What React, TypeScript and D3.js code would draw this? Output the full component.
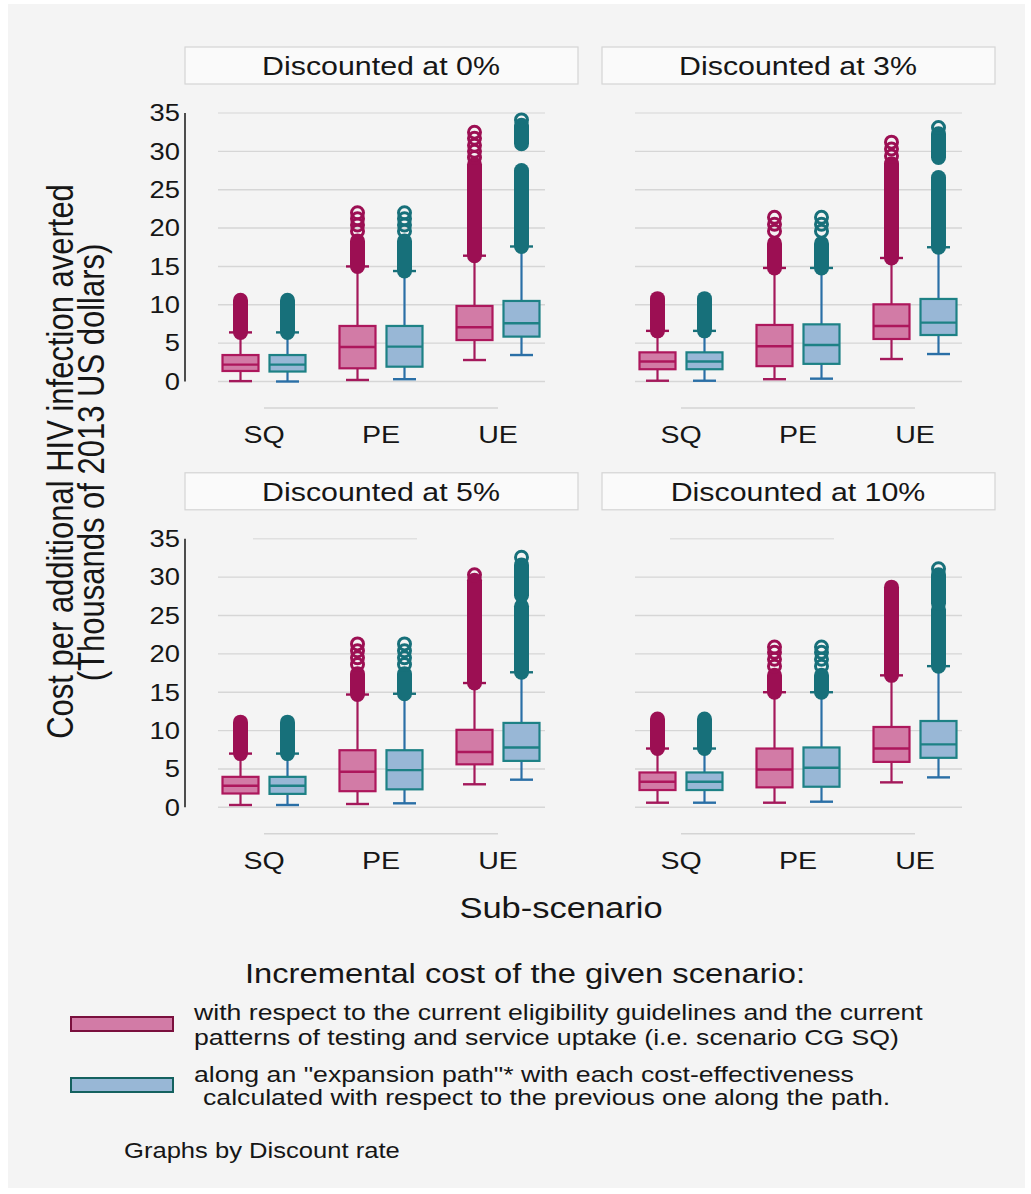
import React from 'react';
import * as d3 from 'd3';

// facet titles, categories and the two cost definitions
const panelTitles = ['Discounted at 0%', 'Discounted at 3%', 'Discounted at 5%', 'Discounted at 10%'];
const categories = ['SQ', 'PE', 'UE'];
const seriesKeys = ['reference', 'expansion'];
const yTicks = [0, 5, 10, 15, 20, 25, 30, 35];

// box stats per panel: [lo whisker, q1, median, q3, hi whisker], order SQ-m, SQ-t, PE-m, PE-t, UE-m, UE-t
const boxes0 = [
  [0.05, 1.37, 2.2, 3.45, 6.4], [0.0, 1.3, 2.2, 3.45, 6.4],
  [0.2, 1.72, 4.5, 7.24, 15.0], [0.3, 1.93, 4.55, 7.24, 14.4],
  [2.8, 5.4, 7.07, 9.85, 16.4], [3.45, 5.85, 7.6, 10.5, 17.6],
];
const boxes3 = [
  [0.1, 1.6, 2.6, 3.8, 6.6], [0.1, 1.6, 2.6, 3.8, 6.6],
  [0.3, 2.0, 4.6, 7.37, 14.8], [0.37, 2.3, 4.76, 7.45, 14.8],
  [2.93, 5.54, 7.24, 10.06, 16.1], [3.58, 6.06, 7.67, 10.76, 17.5],
];
const boxes5 = [
  [0.3, 1.8, 2.8, 3.97, 7.0], [0.3, 1.75, 2.8, 3.97, 7.0],
  [0.43, 2.1, 4.63, 7.44, 14.7], [0.52, 2.34, 4.84, 7.44, 14.8],
  [3.0, 5.6, 7.2, 10.1, 16.2], [3.6, 6.05, 7.8, 11.0, 17.6],
];
const boxes10 = [
  [0.6, 2.25, 3.33, 4.54, 7.66], [0.6, 2.25, 3.33, 4.54, 7.66],
  [0.6, 2.6, 4.93, 7.66, 15.0], [0.73, 2.68, 5.15, 7.8, 15.0],
  [3.25, 5.92, 7.66, 10.47, 17.2], [3.9, 6.45, 8.2, 11.25, 18.4],
];

// dense runs of overlapping outliers, [from, to]
const dense0 = [
  [[6.4, 10.6]], [[6.4, 10.6]],
  [[15.0, 18.3]], [[14.4, 18.3]],
  [[16.4, 28.3]], [[17.6, 27.5], [31.0, 33.4]],
];
const dense3 = [
  [[6.6, 10.8]], [[6.6, 10.8]],
  [[14.8, 18.0]], [[14.8, 18.0]],
  [[16.1, 28.4]], [[17.5, 26.6], [29.2, 32.3]],
];
const dense5 = [
  [[7.0, 11.1]], [[7.0, 11.1]],
  [[14.7, 17.4]], [[14.8, 17.4]],
  [[16.2, 29.6]], [[17.6, 26.2], [27.6, 31.6]],
];
const dense10 = [
  [[7.66, 11.5]], [[7.66, 11.5]],
  [[15.0, 17.2]], [[15.0, 17.2]],
  [[17.2, 28.7]], [[18.4, 25.8], [26.6, 30.3]],
];

// separate outliers drawn as rings
const sparse0 = [[], [], [19.6, 20.4, 21.2, 22.0], [19.6, 20.4, 21.2, 22.0], [29.2, 30.0, 30.8, 31.7, 32.5], [34.1]];
const sparse3 = [[], [], [19.6, 20.5, 21.4], [19.6, 20.5, 21.4], [29.4, 30.3, 31.2], [33.1]];
const sparse5 = [[], [], [18.6, 19.5, 20.4, 21.3], [18.6, 19.5, 20.4, 21.3], [30.3], [32.6]];
const sparse10 = [[], [], [18.4, 19.3, 20.2, 20.9], [18.4, 19.3, 20.2, 20.9], [], [31.1]];

const panelBoxes = [boxes0, boxes3, boxes5, boxes10];
const panelDense = [dense0, dense3, dense5, dense10];
const panelSparse = [sparse0, sparse3, sparse5, sparse10];

const legendLines = [
  'with respect to the current eligibility guidelines and the current',
  'patterns of testing and service uptake (i.e. scenario CG SQ)',
  'along an "expansion path"* with each cost-effectiveness',
  'calculated with respect to the previous one along the path.',
];

const colors = {
  reference: { box: '#d27ba6', line: '#ad175c', whisker: '#a4195b', out: '#9c0f53' },
  expansion: { box: '#98b7d6', line: '#1d8185', whisker: '#2a6fa6', out: '#17707a' },
};

const FONT = '"Liberation Sans", Arial, Helvetica, sans-serif';
const SX = 1.19; // the picture is stretched horizontally

const T = ({ x, y, size, anchor = 'start', rotate = false, children }: any) => (
  <text
    transform={`translate(${x},${y}) scale(${SX},1)${rotate ? ' rotate(-90)' : ''}`}
    fontSize={size}
    textAnchor={anchor}
    fontFamily={FONT}
    fill="#161616"
  >
    {children}
  </text>
);

const Panel = ({ idx }: { idx: number }) => {
  const col = idx % 2;
  const row = Math.floor(idx / 2);
  const dx = col * 417;
  const dy = row * 425.8;

  const y = d3.scaleLinear().domain([0, 35]).range([381.5 + dy, 113 + dy]);
  const x = d3.scalePoint<string>().domain(categories).range([264 + dx, 498 + dx]);
  const off = d3.scalePoint<string>().domain(seriesKeys).range([-23.5, 23.5]);

  const boxes = panelBoxes[idx];
  const dense = panelDense[idx];
  const sparse = panelSparse[idx];

  const boxW = 36;
  const capW = 23;
  const r = 7.5;

  return (
    <g>
      {/* facet header */}
      <rect x={185 + dx} y={47 + dy} width={393} height={37} fill="#fafafa" stroke="#d4d4d4" strokeWidth={1.2} />
      <T x={381 + dx} y={75 + dy} size={25.5} anchor="middle">{panelTitles[idx]}</T>

      {/* gridlines */}
      {yTicks.map((t) => {
        const short = t === 35 && row === 1;
        return (
          <line
            key={t}
            x1={(short ? 253 : 218) + dx}
            x2={(short ? 417 : 545) + dx}
            y1={y(t)}
            y2={y(t)}
            stroke={t === 35 ? '#e0e0e0' : '#d6d6d6'}
            strokeWidth={1.4}
          />
        );
      })}

      {/* y axis on left column */}
      {col === 0 && (
        <g>
          <line x1={185} x2={185} y1={y(35)} y2={y(0)} stroke="#222" strokeWidth={1.6} />
          {yTicks.map((t) => (
            <T key={t} x={180} y={y(t) + 8.3} size={23} anchor="end">{t}</T>
          ))}
        </g>
      )}

      {/* x axis line and labels */}
      <line x1={x('SQ')} x2={x('UE')} y1={408 + dy} y2={408 + dy} stroke="#d4d4d4" strokeWidth={1.4} />
      {categories.map((c) => (
        <T key={c} x={x(c)} y={443 + dy} size={24} anchor="middle">{c}</T>
      ))}

      {/* boxes */}
      {categories.map((c, ci) =>
        seriesKeys.map((s, si) => {
          const k = ci * 2 + si;
          const [lo, q1, med, q3, hi] = boxes[k];
          const cx = (x(c) as number) + (off(s) as number);
          const col = (colors as any)[s];
          return (
            <g key={c + s}>
              <line x1={cx} x2={cx} y1={y(q3)} y2={y(hi)} stroke={col.whisker} strokeWidth={2.2} />
              <line x1={cx} x2={cx} y1={y(q1)} y2={y(lo)} stroke={col.whisker} strokeWidth={2.2} />
              <line x1={cx - capW / 2} x2={cx + capW / 2} y1={y(lo)} y2={y(lo)} stroke={col.whisker} strokeWidth={2.4} />
              <line x1={cx - capW / 2} x2={cx + capW / 2} y1={y(hi)} y2={y(hi)} stroke={col.out} strokeWidth={2.4} />
              <rect
                x={cx - boxW / 2}
                y={y(q3)}
                width={boxW}
                height={y(q1) - y(q3)}
                fill={col.box}
                stroke={col.line}
                strokeWidth={2.2}
              />
              <line x1={cx - boxW / 2} x2={cx + boxW / 2} y1={y(med)} y2={y(med)} stroke={col.line} strokeWidth={2.4} />
              {dense[k].map(([a, b]: number[], di: number) => (
                <rect
                  key={di}
                  x={cx - r}
                  y={y(b) - r}
                  width={r * 2}
                  height={y(a) - y(b) + r * 2}
                  rx={r}
                  fill={col.out}
                />
              ))}
              {sparse[k].map((v: number, vi: number) => (
                <circle key={vi} cx={cx} cy={y(v)} r={r - 1.5} fill="none" stroke={col.out} strokeWidth={3} />
              ))}
            </g>
          );
        })
      )}
    </g>
  );
};

export default function App() {
  return (
    <svg
      width={1031}
      height={1194}
      viewBox="0 0 1031 1194"
      style={{ position: 'absolute', left: 0, top: 0, background: '#ffffff' }}
    >
      <rect x={8} y={4} width={1017} height={1184} fill="#f4f4f4" />

      {panelTitles.map((_, i) => (
        <Panel key={i} idx={i} />
      ))}

      {/* y axis title */}
      <T x={72.5} y={461.5} size={31} anchor="middle" rotate>Cost per additional HIV infection averted</T>
      <T x={104} y={462.5} size={31} anchor="middle" rotate>(Thousands of 2013 US dollars)</T>

      {/* x axis title */}
      <T x={561} y={918} size={29} anchor="middle">Sub-scenario</T>

      {/* legend */}
      <T x={525} y={983} size={27.5} anchor="middle">Incremental cost of the given scenario:</T>
      <rect x={71} y={1017} width={102} height={14} fill={colors.reference.box} stroke="#7a0f3d" strokeWidth={2} />
      <rect x={71} y={1078} width={102} height={14} fill={colors.expansion.box} stroke="#14615f" strokeWidth={2} />
      <T x={194} y={1020} size={22.4}>{legendLines[0]}</T>
      <T x={194} y={1045} size={22.4}>{legendLines[1]}</T>
      <T x={194} y={1082} size={22.4}>{legendLines[2]}</T>
      <T x={203} y={1105} size={22.4}>{legendLines[3]}</T>

      <T x={124} y={1158} size={21.5}>Graphs by Discount rate</T>
    </svg>
  );
}
